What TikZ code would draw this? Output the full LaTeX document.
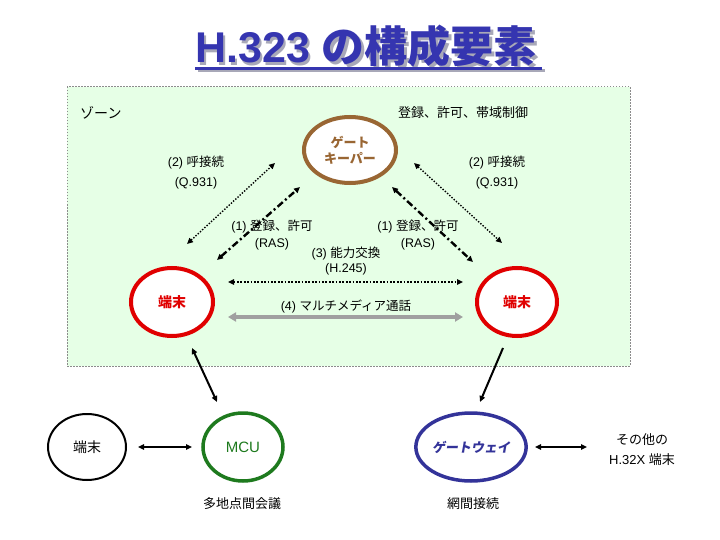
\documentclass[tikz,border=0pt]{standalone}
\usepackage{fontspec}
\setmainfont{Liberation Sans}
\newfontfamily\jp{Noto Sans CJK JP}
\newfontfamily\jpsl{Noto Sans CJK JP}[FakeSlant=0.18]
\usetikzlibrary{shapes.geometric,arrows.meta}
\definecolor{zonefill}{HTML}{E6FFE6}
\definecolor{zoneline}{HTML}{8C8C8C}
\definecolor{gkbrown}{HTML}{996633}
\definecolor{termred}{HTML}{E00000}
\definecolor{mcugreen}{HTML}{1E7A1E}
\definecolor{gwblue}{HTML}{333399}
\definecolor{titleblue}{HTML}{3535B0}
\definecolor{shadowgray}{HTML}{A8A8B8}
\definecolor{callgray}{HTML}{A0A0A0}
\tikzset{
  ell/.style={ellipse, draw, fill=white, inner sep=0pt},
  lbl/.style={font=\fontsize{12.5}{17}\selectfont, align=center, inner sep=0pt},
  tip/.style={-{Triangle[length=6pt,width=5.5pt]}},
  dtip/.style={{Triangle[length=6pt,width=5.5pt]}-{Triangle[length=6pt,width=5.5pt]}},
  callline/.style={dtip, line width=1.4pt, dash pattern=on 1.4pt off 1.6pt},
  rasline/.style={dtip, line width=2.4pt, dash pattern=on 7pt off 3pt on 2pt off 3pt},
  capline/.style={dtip, line width=1.8pt, dash pattern=on 1.8pt off 1.6pt},
  mmline/.style={{Triangle[length=8pt,width=9pt]}-{Triangle[length=8pt,width=9pt]}, line width=3.5pt, callgray},
  extline/.style={dtip, line width=2pt},
}
\begin{document}
\begin{tikzpicture}[x=1pt,y=-1pt]
\useasboundingbox (0,0) rectangle (720,540);
% title with shadow
\node[anchor=base west, inner sep=0pt, text=shadowgray, font=\fontsize{43}{48}\bfseries] at (197.5,65.5) {H.323 {\jp の構成要素}};
\fill[shadowgray] (197.5,69.5) rectangle (544.5,72.5);
\node[anchor=base west, inner sep=0pt, text=titleblue, font=\fontsize{43}{48}\bfseries] (title) at (195,63) {H.323 {\jp の構成要素}};
\fill[titleblue] (195,67) rectangle (542,70);
% zone
\draw[zoneline, fill=zonefill, line width=1pt, dash pattern=on 1.5pt off 1.5pt] (67,87) rectangle (630,366);
\node[anchor=west, inner sep=0pt, font=\fontsize{14}{16}\selectfont\jp] (zone) at (80,113) {ゾーン};
\node[lbl, font=\fontsize{13}{16}\selectfont\jp] (ctrl) at (463,113) {登録、許可、帯域制御};
% nodes
\node[ell, draw=gkbrown, line width=4pt, minimum width=92pt, minimum height=66pt, text=gkbrown, font=\fontsize{13}{16}\selectfont\jp\bfseries, align=center] (gk) at (350,150) {ゲート\\キーパー};
\node[ell, draw=termred, line width=4pt, minimum width=82pt, minimum height=68pt, text=termred, font=\fontsize{14}{16}\selectfont\jp\bfseries] (lt) at (172,302) {端末};
\node[ell, draw=termred, line width=4pt, minimum width=80pt, minimum height=68pt, text=termred, font=\fontsize{14}{16}\selectfont\jp\bfseries] (rt) at (517,302) {端末};
\node[ell, draw=black, line width=2pt, minimum width=78pt, minimum height=66pt, font=\fontsize{14}{16}\selectfont\jp] (bl) at (87,447) {端末};
\node[ell, draw=mcugreen, line width=3.5pt, minimum width=80pt, minimum height=68pt, text=mcugreen, font=\fontsize{15}{17}\selectfont] (mcu) at (243,447) {MCU};
\node[ell, draw=gwblue, line width=3.5pt, minimum width=104pt, minimum height=68pt, text=gwblue, font=\fontsize{13}{16}\selectfont\jpsl\bfseries] (gw) at (471,447) {ゲートウェイ};
\node[lbl, font=\fontsize{13}{20}\selectfont] (other) at (642,450) {{\jp その他の}\\H.32X {\jp 端末}};
\node[lbl, font=\fontsize{13}{16}\selectfont\jp] (mcuL) at (242,504) {多地点間会議};
\node[lbl, font=\fontsize{13}{16}\selectfont\jp] (gwL) at (473,504) {網間接続};
% labels in zone
\node[lbl, font=\fontsize{12.5}{20}\selectfont] (c2l) at (196,173) {(2) {\jp 呼接続}\\(Q.931)};
\node[lbl, font=\fontsize{12.5}{20}\selectfont] (c2r) at (497,173) {(2) {\jp 呼接続}\\(Q.931)};
\node[lbl] (r1l) at (272,235) {(1) {\jp 登録、許可}\\(RAS)};
\node[lbl] (r1r) at (418,235) {(1) {\jp 登録、許可}\\(RAS)};
\node[lbl, font=\fontsize{12.5}{15}\selectfont] (cap) at (346,261) {(3) {\jp 能力交換}\\(H.245)};
\node[lbl] (mm) at (346,306) {(4) {\jp マルチメディア通話}};
% connector end points
\coordinate (c2la) at (187,244); \coordinate (c2lb) at (275,163);
\coordinate (c2ra) at (414,163); \coordinate (c2rb) at (502,243);
\coordinate (r1la) at (217,260); \coordinate (r1lb) at (300,187);
\coordinate (r1ra) at (392,187); \coordinate (r1rb) at (473,262);
\coordinate (capa) at (228,282); \coordinate (capb) at (463,282);
\coordinate (mma) at (228,317); \coordinate (mmb) at (463,317);
\coordinate (lda) at (192,348); \coordinate (ldb) at (217,402);
\coordinate (rda) at (503,348); \coordinate (rdb) at (480,402);
\coordinate (bla) at (138,447); \coordinate (blb) at (192,447);
\coordinate (gwa) at (535,447); \coordinate (gwb) at (587,447);
% connectors
\draw[callline] (c2la) -- (c2lb);
\draw[callline] (c2ra) -- (c2rb);
\draw[rasline] (r1la) -- (r1lb);
\draw[rasline] (r1ra) -- (r1rb);
\draw[capline] (capa) -- (capb);
\draw[mmline] (mma) -- (mmb);
\draw[extline] (lda) -- (ldb);
\draw[extline, tip] (rda) -- (rdb);
\draw[extline] (bla) -- (blb);
\draw[extline] (gwa) -- (gwb);
\end{tikzpicture}
\end{document}
